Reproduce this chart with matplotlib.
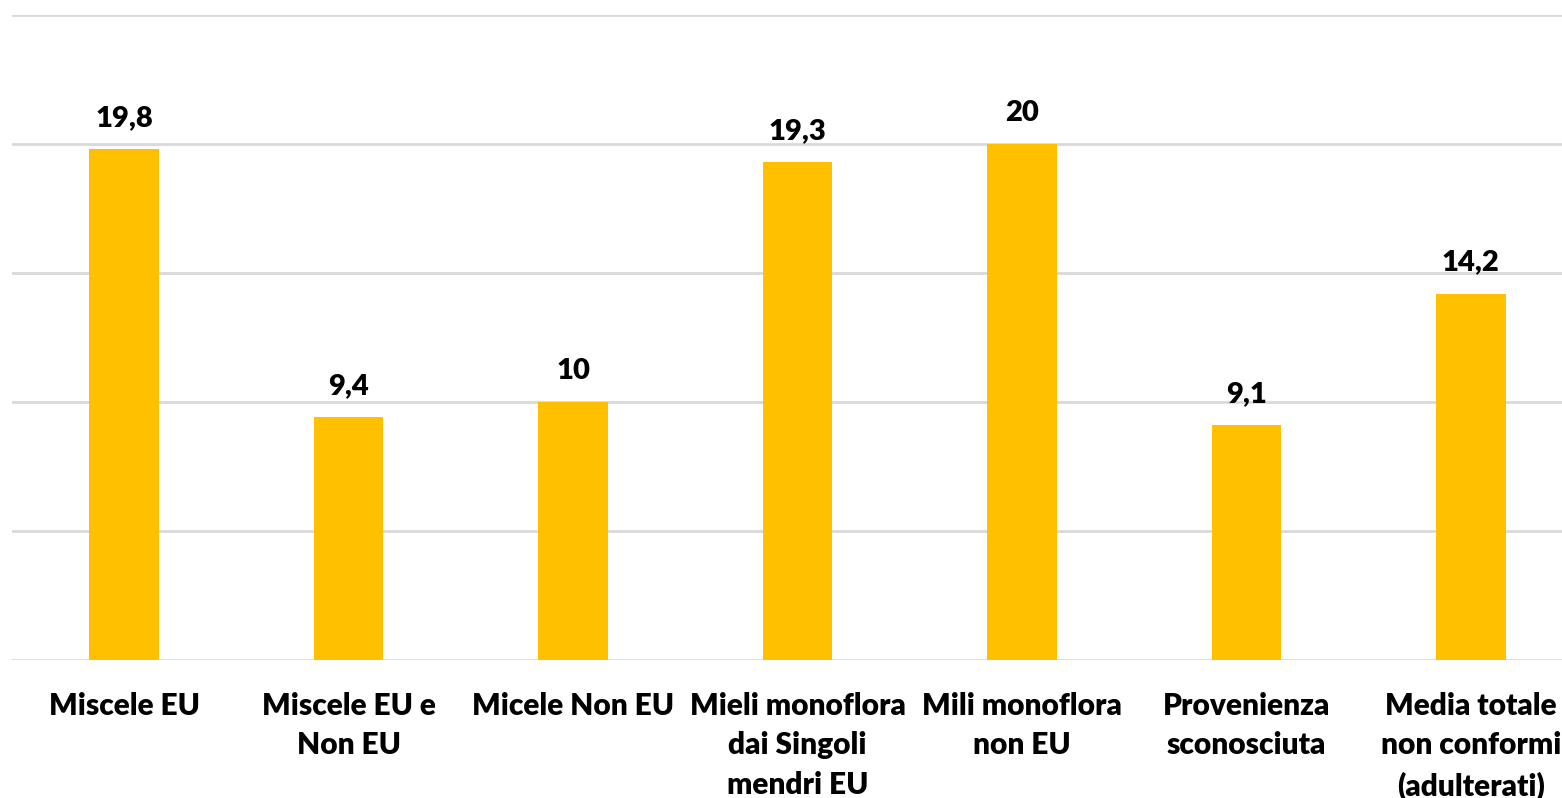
import matplotlib.pyplot as plt

categories = ["Miscele EU", "Miscele EU e\nNon EU", "Micele Non EU",
              "Mieli monoflora\ndai Singoli\nmendri EU", "Mili monoflora\nnon EU",
              "Provenienza\nsconosciuta", "Media totale\nnon conformi\n(adulterati)"]
values = [19.8, 9.4, 10, 19.3, 20, 9.1, 14.2]
value_labels = ["19,8", "9,4", "10", "19,3", "20", "9,1", "14,2"]

plt.rcParams['font.family'] = ['Lato', 'DejaVu Sans']

fig = plt.figure(figsize=(15.62, 7.98), dpi=100)
ax = fig.add_axes([12 / 1562, 138 / 798, 1571 / 1562, 645 / 798])

x = list(range(len(categories)))
ax.bar(x, values, width=0.31, color="#FFC000", zorder=3)

# value labels above the bars
for xi, v, lab in zip(x, values, value_labels):
    ax.annotate(lab, (xi, v), xytext=(0, 13), textcoords="offset points",
                ha="center", va="bottom", fontsize=21, fontweight="heavy")

ax.set_xlim(-0.5, 6.5)
ax.set_ylim(0, 25)
ax.set_yticks([0, 5, 10, 15, 20, 25])
ax.yaxis.grid(True, color="#D9D9D9", linewidth=2)
ax.set_xticks(x)
ax.set_xticklabels(categories, fontsize=21.5, fontweight="heavy", linespacing=1.5)
ax.tick_params(axis="x", length=0, pad=23)
ax.tick_params(axis="y", length=0, labelleft=False)
for s in ax.spines.values():
    s.set_visible(False)

fig.savefig("out.png", dpi=100)
